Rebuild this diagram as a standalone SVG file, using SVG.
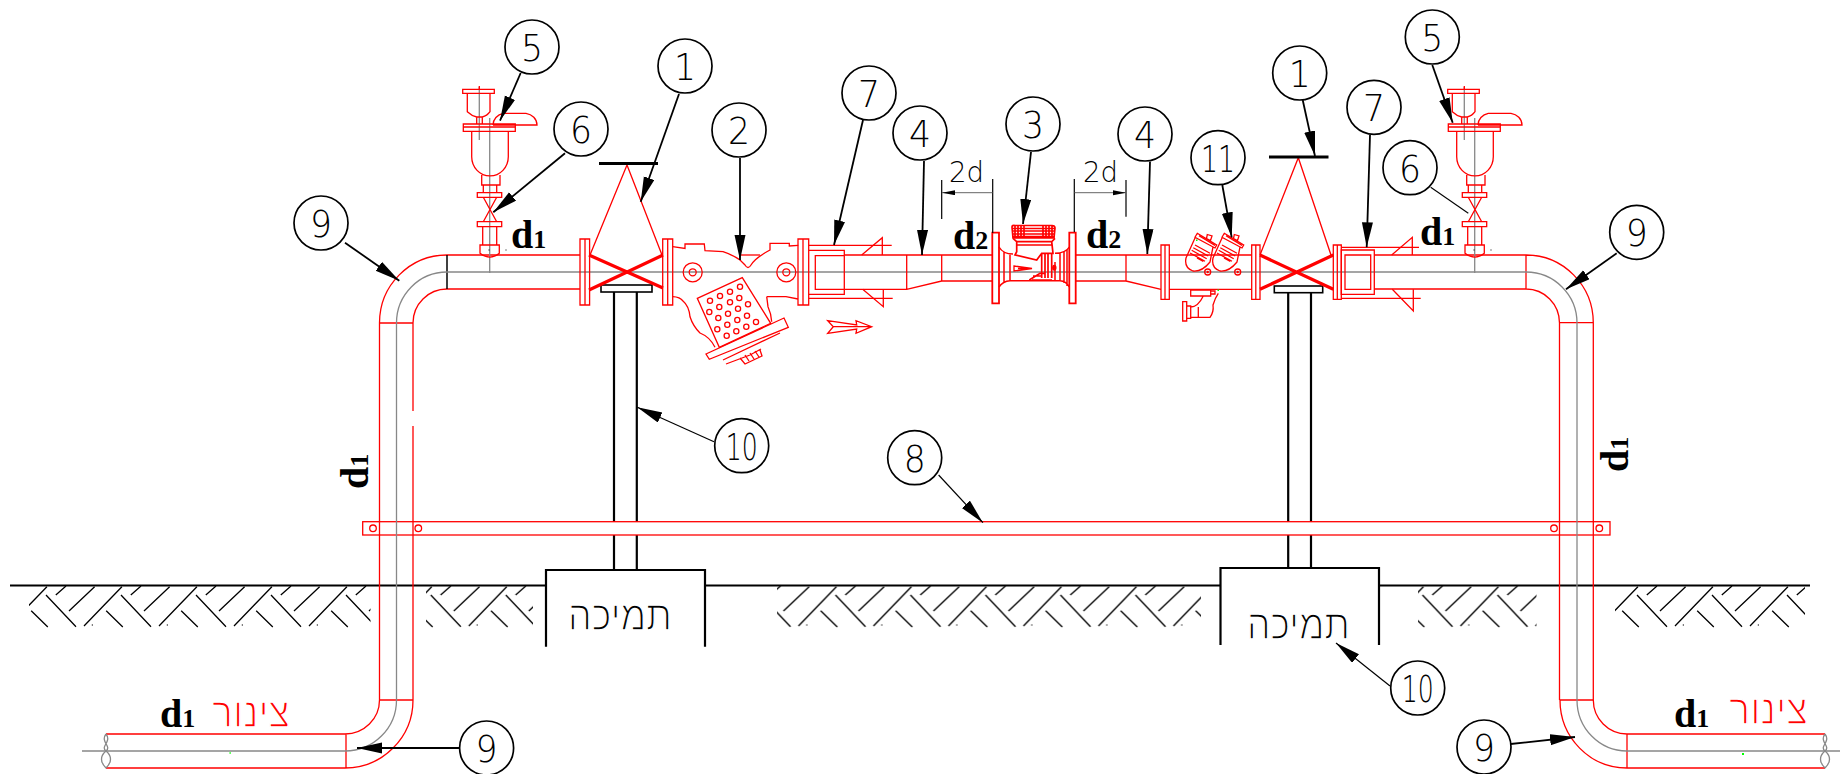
<svg xmlns="http://www.w3.org/2000/svg" xmlns:xlink="http://www.w3.org/1999/xlink" width="1840" height="774" viewBox="0 0 1840 774">
<style>
.r{fill:none;stroke:#f00;stroke-width:1.3}
.rt{fill:none;stroke:#f00;stroke-width:3.2}
.g{fill:none;stroke:#888;stroke-width:1.3}
.k{fill:none;stroke:#000;stroke-width:1.7}
.kt{fill:none;stroke:#000;stroke-width:2.2}
.c{fill:#fff;stroke:#000;stroke-width:1.7}
.a{stroke:#000;stroke-width:1.8;fill:none;marker-end:url(#ah)}
.a2{stroke:#000;stroke-width:1.2;fill:none;marker-end:url(#ah)}
.n{font-family:"DejaVu Sans",sans-serif;font-weight:200;font-size:38px;text-anchor:middle;fill:#000}
.dim{font-family:"DejaVu Sans",sans-serif;font-weight:200;font-size:28px;text-anchor:middle;fill:#000}
.d{font-family:"Liberation Serif",serif;font-weight:700;font-size:40px;fill:#000}
.s{font-size:26px}
.h{font-family:"Liberation Sans",sans-serif;font-size:42px;text-anchor:middle;stroke:#fff;stroke-width:1.5}
</style>
<defs>
<marker id="ah" markerUnits="userSpaceOnUse" markerWidth="28" markerHeight="14" refX="25" refY="5.5" orient="auto"><path d="M0,0L25,5.5L0,11Z" fill="#000"/></marker>
<marker id="da" markerUnits="userSpaceOnUse" markerWidth="14" markerHeight="8" refX="13" refY="2.5" orient="auto-start-reverse"><path d="M0,0L13,2.5L0,5Z" fill="#000"/></marker>
<pattern id="h1" patternUnits="userSpaceOnUse" x="29" y="586" width="75" height="42">
<g fill="none" stroke="#000" stroke-width="1.3">
<path d="M-20,40L17.9,.7M55,40L92.9,.7M26.8,9L37,0M40,25L65.6,.7M17,9L47,40.7M2.2,24.7L18.8,41M77.2,24.7L93.8,41"/>
<path d="M63.4,38.5v1"/></g></pattern>
<pattern id="h2" href="#h1" x="413.8"/>
<pattern id="h3" href="#h1" x="743.5"/>
<pattern id="h4" href="#h1" x="1405.5"/>
<pattern id="h5" href="#h1" x="1620"/>
<g id="airvalve">
<path class="g" d="M489.7,118V273M479.3,87V140"/>
<path class="r" d="M479.3,89L479.3,86M462.7,89.3h31.6v4h-31.6zM467.3,93.3V111.7Q472,116 476.7,117H482.3Q487,116 490,111.7V93.3M476.7,117V124M482.3,117V124"/>
<path class="r" d="M463.3,124h52v7.3h-52zM463.3,127h52M493,125A13,12 0 0 1 503.3,113.3H526A13,12 0 0 1 537,125H493"/>
<path class="r" d="M471.7,131.3V156.7A18.3,19.3 0 0 0 508.3,156.7V131.3M481.7,175V185H500V175M483.3,185V192.7M496.7,185V192.7M477.3,192.7h24.4v4.6h-24.4zM483.3,197.3L496.7,221.7M496.7,197.3L483.3,221.7M477.3,221.7h24.4v5h-24.4zM482.7,226.7V245M496.7,226.7V245M480,245h19.3v8.3Q490,261 480,253.3z"/>
<path d="M488.5,249.5h1v1h-1zM505.5,249.5h1v1h-1z" fill="#000"/>
</g>
<g id="str11">
<path class="r" d="M1197.3,233.3L1216.7,245L1215,248L1195,237.3ZM1199,235.8L1215,245.5M1195,238L1186,258Q1184,268 1193,271Q1202,272 1210,262L1213,247M1207.3,234.5L1212,236L1210.5,240.5L1206.5,238.5Z"/>
<path class="r" d="M1195,245L1210,253.3M1193.3,247.7L1208.3,256M1191.7,250.3L1206.7,258.7M1190,253L1205,261.3M1197,258L1203.3,261.5"/>
</g>
</defs>

<g id="ground">
<path class="kt" d="M10,585.5H546M704,585.5H1220.5M1379,585.5H1810"/>
<rect x="29" y="586" width="341.5" height="42" fill="url(#h1)"/>
<rect x="426" y="586" width="107" height="42" fill="url(#h2)"/>
<rect x="777" y="586" width="424" height="42" fill="url(#h3)"/>
<rect x="1418" y="586" width="118.5" height="42" fill="url(#h4)"/>
<rect x="1615" y="586" width="190" height="42" fill="url(#h5)"/>
</g>

<g id="support-left">
<path class="kt" d="M614,292V522M636.8,292V522M614,535V570M636.8,535V570M546,646.7V570H705V646.7"/>
<rect x="601" y="285" width="51" height="7" fill="#fff" stroke="#000" stroke-width="1.6"/>
<text class="h" x="620" y="630" fill="#000" textLength="104" lengthAdjust="spacingAndGlyphs">תמיכה</text>
</g>
<g id="support-right">
<path class="kt" d="M1288.2,292.7V522M1311,292.7V522M1288.2,535V568M1311,535V568M1220.5,645V568H1379V645"/>
<rect x="1274.3" y="286" width="48.4" height="6.7" fill="#fff" stroke="#000" stroke-width="1.6"/>
<text class="h" x="1298.5" y="639" fill="#000" textLength="103" lengthAdjust="spacingAndGlyphs">תמיכה</text>
</g>

<g id="brace-8">
<rect class="r" x="362.7" y="521.7" width="1247.3" height="13.3"/>
<circle class="r" cx="373" cy="528.3" r="3.3"/><circle class="r" cx="418.3" cy="528.3" r="3.3"/>
<circle class="r" cx="1554" cy="528.3" r="3.3"/><circle class="r" cx="1599.3" cy="528.3" r="3.3"/>
</g>

<g id="pipe-left">
<path class="r" d="M345,734H106M345,768H106M346,734V768M379.5,700V323M413,411V323M413,426V700M379.5,700H413M379.5,323H413M413,700A68,68 0 0 1 345,768M379.5,700A34.5,34 0 0 1 345,734M379.5,323A67.5,68 0 0 1 447,255M413,323A34,34 0 0 1 447,289M447,255H580M447,289H580"/>
<path class="kt" style="stroke-width:1.5" d="M447,255V289"/>
<path class="g" d="M82,751H345A51.5,51 0 0 0 396.5,700V323A50.5,51 0 0 1 447,272H590"/>
<path class="g" d="M106,734C100,742 112,746 106,751C100,756 100,762 106,768M106,734C112,742 100,746 106,751C112,756 112,762 106,768"/>
<rect x="229.6" y="752" width="1" height="2" fill="#0f0"/>
</g>
<g id="pipe-right">
<path class="r" d="M1627,734H1825M1627,768H1825M1627,734V768M1593.3,323V700M1559.5,323V700M1560,700H1593.3M1559.5,322.7H1593.3M1526,255V289M1526,255A67.3,68 0 0 1 1593.3,323M1526,289A33.5,34 0 0 1 1559.5,323M1593.3,700A33.7,34 0 0 0 1627,734M1560,700A67,68 0 0 0 1627,768M1374,255H1526M1374,289H1526"/>
<path class="g" d="M1840,751H1627A50,51 0 0 1 1577,700V323A51,51 0 0 0 1526,272H590"/>
<path class="g" d="M1825,734C1819,742 1831,746 1825,751C1819,756 1819,762 1825,768M1825,734C1831,742 1819,746 1825,751C1831,756 1831,762 1825,768"/>
<rect x="1742" y="753" width="2" height="2" fill="#0f0"/>
</g>

<g id="air-valve-left"><use href="#airvalve"/></g>
<g id="air-valve-right"><use href="#airvalve" transform="translate(985,0)"/></g>

<g id="gate-valve-left">
<path class="r" d="M590,255L627,165L662,255"/>
<path class="rt" d="M589,255L663,288M589,290L663,255"/>
<path d="M599,163.5H658" stroke="#000" stroke-width="3" fill="none"/>
<path class="r" d="M580,239h9.6v66H580zM585,239v66M662.7,239h10v66h-10zM667.7,239v66"/>
</g>
<g id="strainer-2">
<path class="r" d="M672.7,246.7L685,248.5V244H704.3L705,250.7L723,251.7Q733,255 740,260L745,265Q748,270 751,265Q755,258 770,250V243.3H789.3V246L798.3,245.3"/>
<path class="r" d="M740,255H760"/>
<circle class="r" cx="692.7" cy="272.3" r="9.5"/><circle class="r" cx="692.7" cy="272.3" r="3.5"/>
<circle class="r" cx="786.3" cy="272.3" r="9.5"/><circle class="r" cx="786.3" cy="272.3" r="3.5"/>
<path class="r" d="M672.7,296.7Q680,297 683,301Q689,306 690,316.7Q693,326 700,333Q710,337 715,347.3M766.7,296.7H786L798,299M766.7,296.7L768,306.7Q771,313 771.7,321.7"/>
<path class="r" d="M697.3,298.3L742.3,277.7L770.7,323.3L719.3,347.3Z"/>
<path class="r" d="M706,354L784,318L788.3,327.3L709.3,359.3ZM723,360L780,333M726,364L750,355L761,349M740,358L745,364L762,356L760,350M745,355L749,361M750,353L754,359M755,351L759,357"/>
<g class="r">
<circle cx="710" cy="300.7" r="2.6"/><circle cx="720" cy="296" r="2.6"/><circle cx="730" cy="291.7" r="2.6"/><circle cx="740" cy="286.7" r="2.6"/>
<circle cx="709.3" cy="312" r="2.6"/><circle cx="719.3" cy="307" r="2.6"/><circle cx="730" cy="302.3" r="2.6"/><circle cx="739.3" cy="298" r="2.6"/>
<circle cx="718.3" cy="318" r="2.6"/><circle cx="728" cy="313.7" r="2.6"/><circle cx="738" cy="308.7" r="2.6"/><circle cx="748" cy="304.3" r="2.6"/>
<circle cx="717.3" cy="329.3" r="2.6"/><circle cx="727.3" cy="324.7" r="2.6"/><circle cx="737.3" cy="320" r="2.6"/><circle cx="747" cy="315.7" r="2.6"/>
<circle cx="726.7" cy="335.7" r="2.6"/><circle cx="736.3" cy="331.3" r="2.6"/><circle cx="746.3" cy="326.7" r="2.6"/><circle cx="756" cy="322" r="2.6"/>
</g>
</g>
<g id="flow-arrow"><path class="r" d="M827.7,320.7L856.7,325L856,320.7L871.7,326.7L856,333.3L856.7,329L827.7,333.3L833.3,326.7ZM833.3,326.7H871.7"/></g>

<g id="joint-7-left">
<path class="r" d="M798,239h10.7v66H798zM803,239v66M808.7,245.3H891.7M808.7,298.3H892.7M808.7,250.3h35.6v44h-35.6zM815.3,255.7h29v33.6h-29z"/>
<path class="r" d="M861.7,255L882.3,237.7V255M862.7,289.3L883.3,306.7V289.3"/>
<path class="r" d="M844.3,255H992.5M844.3,289.3H906.7L941.7,281H992.5M906.7,255V289.3M941.7,255V281"/>
</g>

<g id="meter-3">
<path class="r" d="M992.3,232.7h6.7v70.6h-6.7zM1069.3,232.7h6.4v70.6h-6.4z" style="stroke-width:1.8"/>
<path class="r" style="stroke-width:1.5" d="M999,247Q1003,254 1013,254M1069.3,247Q1066,253 1055,253.3M999,287Q1003,281 1010,280.7H1060Q1066,281 1069.3,287M1004,252V283M1010,254V281M1060,253V281M1064,251V283M1067,250V286M1055,262V280"/>
<path class="r" style="stroke-width:1.7" d="M1012,227Q1012,225 1015,225.5H1052Q1055,225.5 1055,228L1054,238H1013ZM1015,226V238M1018,226V238M1021,226V238M1024,226V238M1043,226V238M1046,226V238M1049,226V238M1052,226V238M1012,228.5H1055M1012,231H1055M1012,234H1055M1012,236.5H1055"/>
<path class="r" style="stroke-width:1.7" d="M1013,238.3L1016.7,241.7V251.7L1015,255L1036.7,260L1041.7,253.3H1053L1051.7,241.7L1055,238.3M1016.7,241.7H1051.7M1016.7,245H1051.7M1041.7,253V278M1045,253V278M1048,253V278M1051.7,253V278M1029.3,280L1040,273.3H1045M1032,280H1052M1033,276H1042"/>
<ellipse cx="1054.3" cy="267.7" rx="2.2" ry="3" fill="#f00"/>
<path class="r" d="M1014,266L1032,268.5L1014,271ZM1018,268.5H1032"/>
<path class="r" d="M1075.7,255H1161M1075.7,281H1126L1161,289.3M1126,255V281"/>
</g>

<g id="fitting-11">
<path class="r" d="M1161,245h8.3v54.3H1161zM1165,245v54.3M1169.3,255H1251.7M1169.3,289.3H1251.7"/>
<use href="#str11"/><use href="#str11" transform="translate(27,0)"/>
<circle class="r" cx="1207.7" cy="272" r="3"/><circle cx="1207.7" cy="272" r="1.2" fill="#f00"/>
<circle class="r" cx="1237.7" cy="272" r="3"/><circle cx="1237.7" cy="272" r="1.2" fill="#f00"/>
<path class="r" d="M1190.7,290H1210.7V296H1190.7ZM1210.7,291H1215V294H1210.7ZM1182.7,301.7H1186.7V321H1182.7ZM1186.7,306H1190.7V318.3H1186.7ZM1190.7,307Q1198,307 1203.3,296M1190.7,317.3H1198.3V307M1198.3,317.3H1210Q1214,312 1213,305Q1215,298 1218.3,293.3"/>
<rect x="1196" y="239.5" width="1.5" height="1.5" fill="#0f0"/><rect x="1217.5" y="289.5" width="1.5" height="1.5" fill="#0f0"/>
</g>

<g id="gate-valve-right">
<path class="r" d="M1260,255L1298.3,157.7L1331,255"/>
<path class="rt" d="M1260,255L1333.3,289.3M1260,289.3L1333.3,255"/>
<path d="M1269,157H1328.5" stroke="#000" stroke-width="3.2" fill="none"/>
<path class="r" d="M1251.7,245h8.3v54.3h-8.3zM1255.8,245v54.3M1333.3,245h8v54.3h-8zM1337.3,245v54.3"/>
</g>
<g id="joint-7-right">
<path class="r" d="M1341.3,247.3H1419M1341.3,298.3H1420.7M1341.3,250h33v44.3h-33zM1345,255h25.7v34.3H1345z"/>
<path class="r" d="M1391.7,255L1412.3,237.3V255M1392.3,289.3L1413.3,311V289.3"/>
</g>

<g id="dimensions">
<path class="k" style="stroke-width:1.2" d="M941.7,180V219M992.7,179V233M1074.3,179V232M1126,180V216.7"/>
<path d="M942,192.7H992.5M1074.5,192.7H1126" stroke="#666" stroke-width="1" fill="none" marker-start="url(#da)" marker-end="url(#da)"/>
<text class="dim" x="966.5" y="182" textLength="35" lengthAdjust="spacingAndGlyphs">2d</text>
<text class="dim" x="1100.5" y="182" textLength="35" lengthAdjust="spacingAndGlyphs">2d</text>
</g>

<g id="labels">
<text class="d" x="511" y="248">d<tspan class="s">1</tspan></text>
<text class="d" x="1420" y="245">d<tspan class="s">1</tspan></text>
<text class="d" x="953" y="249">d<tspan class="s">2</tspan></text>
<text class="d" x="1086" y="248">d<tspan class="s">2</tspan></text>
<text class="d" x="160" y="727">d<tspan class="s">1</tspan></text>
<text class="d" x="1674" y="727">d<tspan class="s">1</tspan></text>
<text class="d" transform="translate(368,489) rotate(-90)">d<tspan class="s">1</tspan></text>
<text class="d" transform="translate(1628,472) rotate(-90)">d<tspan class="s">1</tspan></text>
<text class="h" x="251" y="727" fill="#f00" textLength="78" lengthAdjust="spacingAndGlyphs">צינור</text>
<text class="h" x="1768.5" y="724" fill="#f00" textLength="79" lengthAdjust="spacingAndGlyphs">צינור</text>
</g>

<g id="connectors">
<path class="a" d="M520.7,73L500,120.7"/>
<path class="a" d="M565,153.3L493.3,212.3"/>
<path class="a" d="M345,242.7L399.3,280.7"/>
<path class="a" d="M679,94L640.7,201.7"/>
<path class="a" d="M740,158V260"/>
<path class="a" d="M863,120L834,245"/>
<path class="a" d="M924,161L922,255"/>
<path class="a" d="M1031,152L1023,224"/>
<path class="a" d="M1150,161.7L1147.3,254"/>
<path class="a" d="M1222.3,185L1231.7,237.3"/>
<path class="a" d="M1302.7,100L1315,156"/>
<path class="a" d="M1370,135L1366.7,247.3"/>
<path class="a" d="M1432.3,65L1452.7,122.7"/>
<path class="k" style="stroke-width:1.1" d="M1430.7,187.3L1468.3,213.3"/>
<path class="a" d="M1616.7,253.3L1566,289.3"/>
<path class="a2" d="M714,441.7L637.3,407.3"/>
<path class="a2" d="M938.6,475L982.9,522.7"/>
<path class="a" d="M460,748H357"/>
<path class="a2" d="M1390,686L1336,643"/>
<path class="a" d="M1510.5,744L1575,737"/>
</g>

<g id="b1l"><circle class="c" cx="685" cy="66" r="27"/><text class="n" x="685" y="80" textLength="22" lengthAdjust="spacingAndGlyphs">1</text></g>
<g id="b5l"><circle class="c" cx="532" cy="47" r="27"/><text class="n" x="532" y="61" textLength="22" lengthAdjust="spacingAndGlyphs">5</text></g>
<g id="b6l"><circle class="c" cx="581" cy="129" r="27"/><text class="n" x="581" y="143" textLength="22" lengthAdjust="spacingAndGlyphs">6</text></g>
<g id="b9tl"><circle class="c" cx="321" cy="223" r="27"/><text class="n" x="321" y="237" textLength="22" lengthAdjust="spacingAndGlyphs">9</text></g>
<g id="b2"><circle class="c" cx="739" cy="130" r="27"/><text class="n" x="739" y="144" textLength="22" lengthAdjust="spacingAndGlyphs">2</text></g>
<g id="b7l"><circle class="c" cx="869" cy="93" r="27"/><text class="n" x="869" y="107" textLength="22" lengthAdjust="spacingAndGlyphs">7</text></g>
<g id="b4l"><circle class="c" cx="920" cy="133" r="27"/><text class="n" x="920" y="147" textLength="22" lengthAdjust="spacingAndGlyphs">4</text></g>
<g id="b3"><circle class="c" cx="1033" cy="124" r="27"/><text class="n" x="1033" y="138" textLength="22" lengthAdjust="spacingAndGlyphs">3</text></g>
<g id="b4r"><circle class="c" cx="1145" cy="134" r="27"/><text class="n" x="1145" y="148" textLength="22" lengthAdjust="spacingAndGlyphs">4</text></g>
<g id="b11"><circle class="c" cx="1218" cy="157.7" r="27"/><text class="n" x="1218" y="172" textLength="34" lengthAdjust="spacingAndGlyphs">11</text></g>
<g id="b1r"><circle class="c" cx="1299.7" cy="73" r="27"/><text class="n" x="1299.7" y="87" textLength="22" lengthAdjust="spacingAndGlyphs">1</text></g>
<g id="b7r"><circle class="c" cx="1374" cy="107.3" r="27"/><text class="n" x="1374" y="121" textLength="22" lengthAdjust="spacingAndGlyphs">7</text></g>
<g id="b5r"><circle class="c" cx="1432.3" cy="37" r="27"/><text class="n" x="1432.3" y="51" textLength="22" lengthAdjust="spacingAndGlyphs">5</text></g>
<g id="b6r"><circle class="c" cx="1410" cy="167.7" r="27"/><text class="n" x="1410" y="182" textLength="22" lengthAdjust="spacingAndGlyphs">6</text></g>
<g id="b9tr"><circle class="c" cx="1636.7" cy="232.3" r="27"/><text class="n" x="1636.7" y="246" textLength="22" lengthAdjust="spacingAndGlyphs">9</text></g>
<g id="b10l"><circle class="c" cx="741.7" cy="445.7" r="27"/><text class="n" x="741.7" y="460" textLength="32" lengthAdjust="spacingAndGlyphs">10</text></g>
<g id="b8"><circle class="c" cx="914.7" cy="457.7" r="27"/><text class="n" x="914.7" y="472" textLength="22" lengthAdjust="spacingAndGlyphs">8</text></g>
<g id="b9bl"><circle class="c" cx="486.6" cy="748" r="27"/><text class="n" x="486.6" y="762" textLength="22" lengthAdjust="spacingAndGlyphs">9</text></g>
<g id="b10r"><circle class="c" cx="1417.7" cy="688" r="27"/><text class="n" x="1417.7" y="702" textLength="32" lengthAdjust="spacingAndGlyphs">10</text></g>
<g id="b9br"><circle class="c" cx="1484" cy="747" r="27"/><text class="n" x="1484" y="761" textLength="22" lengthAdjust="spacingAndGlyphs">9</text></g>
</svg>
